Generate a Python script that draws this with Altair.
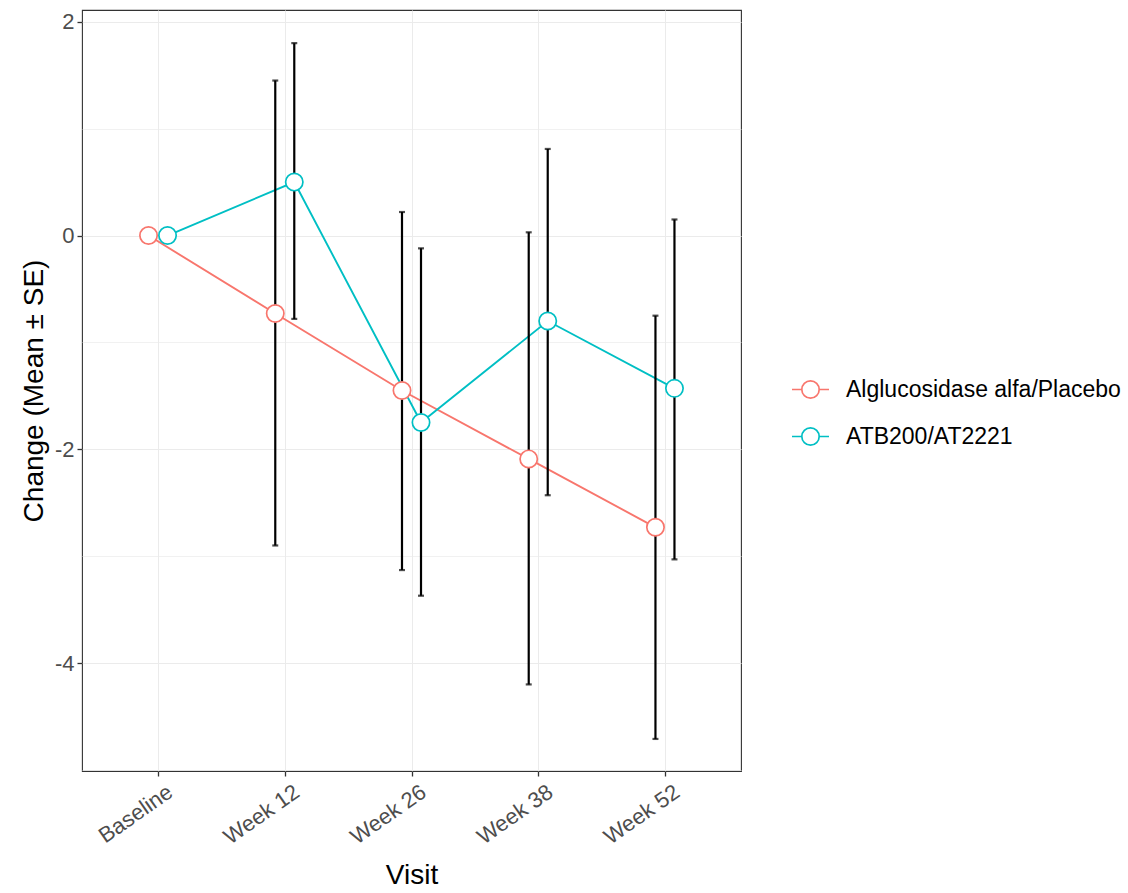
import altair as alt
import pandas as pd

# Visits and treatment groups
visits = ["Baseline", "Week 12", "Week 26", "Week 38", "Week 52"]
groups = ["Alglucosidase alfa/Placebo", "ATB200/AT2221"]
colors = ["#F8766D", "#00BFC4"]

# Mean change and mean +/- SE bounds per group
placebo_mean = [0.0, -0.73, -1.45, -2.09, -2.73]
placebo_lo = [0.0, -2.90, -3.13, -4.20, -4.71]
placebo_hi = [0.0, 1.45, 0.22, 0.03, -0.75]

atb_mean = [0.0, 0.50, -1.75, -0.80, -1.43]
atb_lo = [0.0, -0.78, -3.37, -2.43, -3.03]
atb_hi = [0.0, 1.80, -0.12, 0.81, 0.15]

dodge = 0.15  # total dodge width in category units

rows = []
for g_i, (g, m, lo, hi) in enumerate(
    [(groups[0], placebo_mean, placebo_lo, placebo_hi),
     (groups[1], atb_mean, atb_lo, atb_hi)]
):
    shift = (g_i - 0.5) * dodge
    for v_i, v in enumerate(visits):
        rows.append({
            "visit": v,
            "group": g,
            "pos": v_i + shift,
            "mean": m[v_i],
            "lo": lo[v_i],
            "hi": hi[v_i],
        })
df = pd.DataFrame(rows)
bars = df[df["visit"] != "Baseline"]

FONT = "Liberation Sans"
label_js = "[" + ",".join(f"'{v}'" for v in visits) + "]"

x_enc = alt.X(
    "pos:Q",
    scale=alt.Scale(domain=[-0.6, 4.6], nice=False, zero=False),
    axis=alt.Axis(
        values=list(range(len(visits))),
        labelExpr=f"{label_js}[round(datum.value)]",
        title="Visit",
        labelAngle=-35,
        labelAlign="right",
        labelBaseline="top",
        labelPadding=5,
        labelOffset=6,
        titlePadding=14,
    ),
)
y_scale = alt.Scale(domain=[-5.01, 2.11], nice=False, zero=False)
y_axis = alt.Axis(
    values=[-5, -4, -3, -2, -1, 0, 1, 2],
    labelExpr="datum.value % 2 === 0 ? '' + datum.value : ''",
    tickOpacity={"condition": {"test": "datum.value % 2 === 0", "value": 1}, "value": 0},
    gridWidth={"condition": {"test": "datum.value % 2 === 0", "value": 1.2}, "value": 0.7},
    title="Change (Mean \u00b1 SE)",
    labelPadding=3,
    titlePadding=6,
)
color_scale = alt.Scale(domain=groups, range=colors)

legend_symbol = (
    "M-1,0L-0.47,0M0.47,0L1,0"
    "M-0.47,0A0.47,0.47,0,1,1,0.47,0A0.47,0.47,0,1,1,-0.47,0Z"
)

lines = alt.Chart(df).mark_line(strokeWidth=1.9).encode(
    x=x_enc,
    y=alt.Y("mean:Q", scale=y_scale, axis=y_axis),
    color=alt.Color(
        "group:N",
        scale=color_scale,
        legend=alt.Legend(
            title=None,
            orient="none",
            legendX=709,
            legendY=360,
            symbolType=legend_symbol,
            symbolSize=1369,
            symbolStrokeWidth=1.7,
            symbolFillColor="white",
            labelFontSize=23,
            labelFont=FONT,
            labelColor="black",
            labelOffset=16,
            rowPadding=15,
            padding=0,
            labelLimit=400,
        ),
    ),
    detail="group:N",
)

rules = alt.Chart(bars).mark_rule(color="black", strokeWidth=2.2).encode(
    x="pos:Q",
    y="lo:Q",
    y2="hi:Q",
)
cap_lo = alt.Chart(bars).mark_tick(
    color="black", orient="horizontal", size=6, thickness=2.2
).encode(x="pos:Q", y="lo:Q")
cap_hi = alt.Chart(bars).mark_tick(
    color="black", orient="horizontal", size=6, thickness=2.2
).encode(x="pos:Q", y="hi:Q")

points = alt.Chart(df).mark_point(
    shape="circle", filled=True, fill="white", size=300, strokeWidth=1.7, opacity=1
).encode(
    x="pos:Q",
    y="mean:Q",
    stroke=alt.Stroke("group:N", scale=color_scale, legend=None),
)

chart = (
    alt.layer(lines, rules, cap_lo, cap_hi, points)
    .properties(
        width=659,
        height=761,
        autosize=alt.AutoSizeParams(type="none"),
        padding={"left": 82, "top": 10, "right": 387, "bottom": 122},
        background="white",
    )
    .configure_view(stroke="#333333", strokeWidth=1.1)
    .configure_axis(
        domain=False,
        grid=True,
        gridColor="#EBEBEB",
        tickColor="#333333",
        tickSize=5,
        tickWidth=1.3,
        labelFont=FONT,
        labelFontSize=22,
        labelColor="#4D4D4D",
        titleFont=FONT,
        titleFontSize=28,
        titleFontWeight="normal",
        titleColor="black",
    )
)

chart.save("out.html", embed_options={"renderer": "svg", "actions": False})
